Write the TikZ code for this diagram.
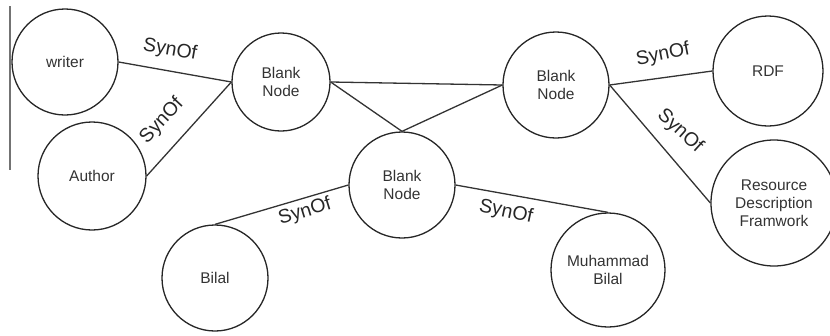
\documentclass[tikz,border=0pt]{standalone}
\usepackage{fontspec}
\setmainfont{Liberation Sans}
\begin{document}
\begin{tikzpicture}[x=1pt,y=-1pt,
  ent/.style={circle,draw=black!85,line width=1.3pt,inner sep=0pt,text=black!80,
    font=\fontsize{15.5}{18}\selectfont,align=center},
  link/.style={draw=black!80,line width=1.3pt},
  syn/.style={text=black!85,font=\fontsize{19.5}{21}\selectfont,inner sep=0pt}]
\useasboundingbox (0,0) rectangle (830,335);
\clip (0,0) rectangle (830,335);
\draw[black!55,line width=1.5pt] (10,6) -- (10,170);
\node[ent,minimum size=106pt] (w) at (65,62) {writer};
\node[ent,minimum size=98pt] (b1) at (281,82) {Blank\\Node};
\node[ent,minimum size=108pt] (au) at (92,176) {Author};
\node[ent,minimum size=106pt] (br) at (556,85) {Blank\\Node};
\node[ent,minimum size=110pt] (rdf) at (768,71) {RDF};
\node[ent,minimum size=126pt] (res) at (774,203) {Resource\\Description\\Framwork};
\node[ent,minimum size=106pt] (bm) at (402,185) {Blank\\Node};
\node[ent,minimum size=106pt] (bi) at (215,278) {Bilal};
\node[ent,minimum size=114pt] (mb) at (608,270) {Muhammad\\Bilal};
\draw[link] (w.east) -- (b1.west);
\draw[link] (au.east) -- (b1.west);
\draw[link] (b1.east) -- (br.west);
\draw[link] (b1.east) -- (bm.north);
\draw[link] (bm.north) -- (br.west);
\draw[link] (br.east) -- (rdf.west);
\draw[link] (br.east) -- (res.west);
\draw[link] (bm.west) -- (bi.north);
\draw[link] (bm.east) -- (mb.north);
\node[syn,rotate=-10] (l1) at (170,50) {SynOf};
\node[syn,rotate=47] (l2) at (162,121) {SynOf};
\node[syn,rotate=11] (l3) at (663,55) {SynOf};
\node[syn,rotate=-42] (l4) at (680,131) {SynOf};
\node[syn,rotate=17] (l5) at (305,212) {SynOf};
\node[syn,rotate=-12] (l6) at (506,212) {SynOf};
\end{tikzpicture}
\end{document}
